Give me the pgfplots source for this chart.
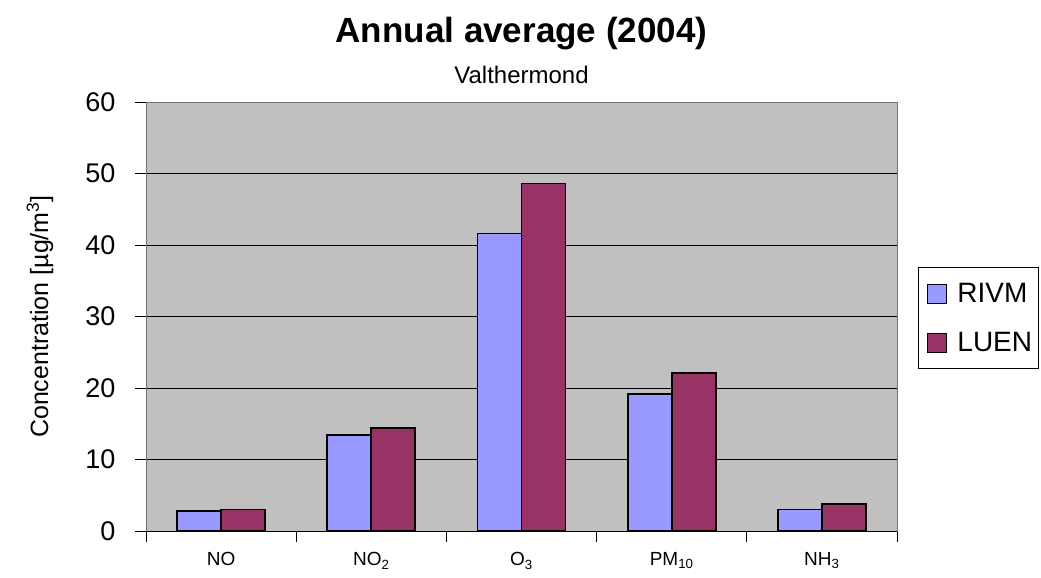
\documentclass[border=0pt]{standalone}
\usepackage{pgfplots}
\pgfplotsset{compat=1.18}
\usepackage{fontspec}
\setmainfont{Liberation Sans}
\definecolor{rivm}{HTML}{9999FF}
\definecolor{luen}{HTML}{993366}
\definecolor{plotbg}{HTML}{C0C0C0}
\begin{document}
\begin{tikzpicture}
\useasboundingbox (-146pt,-47pt) rectangle (895pt,531pt);
\begin{axis}[
  name=ax,
  at={(0,0)}, anchor=south west,
  scale only axis, width=751pt, height=429pt,
  xmin=-0.5, xmax=4.5, ymin=0, ymax=60,
  ytick={0,10,...,60},
  xtick={-0.5,0.5,...,4.5}, xticklabels={},
  extra x ticks={0,1,2,3,4},
  extra x tick labels={NO, NO\textsubscript{2}, O\textsubscript{3}, PM\textsubscript{10}, NH\textsubscript{3}},
  extra x tick style={major tick length=0pt, grid=none,
    tick label style={font=\fontsize{19}{22}\selectfont, yshift=-18pt}},
  xtick pos=bottom, ytick pos=left,
  tick align=outside, major tick length=11pt,
  tick style={black, line width=0.8pt},
  ymajorgrids, grid style={black, line width=0.8pt},
  axis background/.style={fill=plotbg},
  axis line style={draw=black!55, line width=0.8pt},
  /pgf/number format/assume math mode=true,
  yticklabel style={font=\fontsize{27}{30}\selectfont, xshift=-16pt},
  ybar=0pt, bar width=44pt,
  legend style={at={(1.028,0.615)}, anchor=north west, draw=black, line width=0.8pt,
    font=\fontsize{28}{32}\selectfont, row sep=3pt, inner xsep=4pt, inner ysep=3pt,
    nodes={inner sep=2pt, minimum height=46pt}},
  legend cell align=left,
  legend image code/.code={\path[draw=none, fill=none] (0pt,0pt) -- (33pt,0pt);
    \draw[#1, draw=black, line width=1pt] (5pt,-9.5pt) rectangle (24pt,9.5pt);},
]
\addplot[fill=rivm, draw=black, line width=1.7pt] coordinates {(0,2.8) (1,13.4) (2,41.6) (3,19.2) (4,3.0)};
\addplot[fill=luen, draw=black, line width=1.7pt] coordinates {(0,3.0) (1,14.4) (2,48.6) (3,22.1) (4,3.8)};
\legend{RIVM, LUEN}
\draw[black, line width=1pt] (rel axis cs:0,0) -- (rel axis cs:1,0);
\end{axis}
\node[font=\bfseries\fontsize{35}{39}\selectfont] at ([yshift=68pt]ax.north) {Annual average (2004)};
\node[font=\fontsize{24}{28}\selectfont] at ([yshift=27pt]ax.north) {Valthermond};
\node[rotate=90, font=\fontsize{25}{29}\selectfont] at ([xshift=-106pt]ax.west) {Concentration [µg/m\textsuperscript{3}]};
\end{tikzpicture}
\end{document}
